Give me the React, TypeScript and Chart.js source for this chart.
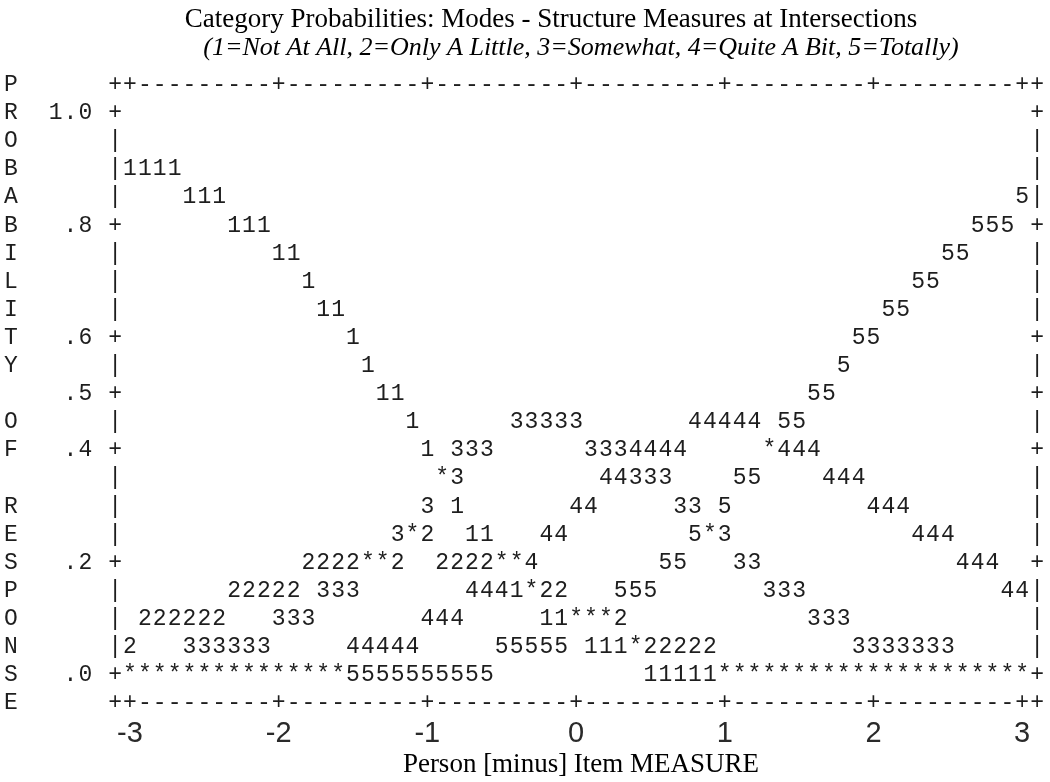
import React, { useEffect, useRef } from "react";
import { Chart, registerables } from "chart.js";

Chart.register(...registerables);

// ---------- text ----------
const chartTitle = "Category Probabilities: Modes - Structure Measures at Intersections";
const chartSubtitle = "(1=Not At All, 2=Only A Little, 3=Somewhat, 4=Quite A Bit, 5=Totally)";
const xAxisTitle = "Person [minus] Item MEASURE";
const yAxisLetters = "PROBABILITY OF RESPONSE";

// ---------- ticks ----------
const xTickValues = [-3, -2, -1, 0, 1, 2, 3];
const yTickValues = [1.0, 0.8, 0.6, 0.5, 0.4, 0.2, 0.0];
const yTickLabels = ["1.0", ".8", ".6", ".5", ".4", ".2", ".0"];

// ---------- categories (plot symbols) ----------
const categories = ["1", "2", "3", "4", "5", "*"];

// ---------- plotted marks: probability row, then [first measure, symbols every 0.1 logit] ----------
const plotProbabilities = [
  0.9, 0.85, 0.8, 0.75, 0.7, 0.65, 0.6, 0.55, 0.5, 0.45,
  0.4, 0.35, 0.3, 0.25, 0.2, 0.15, 0.1, 0.05, 0.0,
];

const plotMarks: [number, string][][] = [
  [[-3.0, "1111"]],
  [[-2.6, "111"], [3.0, "5"]],
  [[-2.3, "111"], [2.7, "555"]],
  [[-2.0, "11"], [2.5, "55"]],
  [[-1.8, "1"], [2.3, "55"]],
  [[-1.7, "11"], [2.1, "55"]],
  [[-1.5, "1"], [1.9, "55"]],
  [[-1.4, "1"], [1.8, "5"]],
  [[-1.3, "11"], [1.6, "55"]],
  [[-1.1, "1"], [-0.4, "33333"], [0.8, "44444"], [1.4, "55"]],
  [[-1.0, "1"], [-0.8, "333"], [0.1, "3334444"], [1.3, "*444"]],
  [[-0.9, "*3"], [0.2, "44333"], [1.1, "55"], [1.7, "444"]],
  [[-1.0, "3"], [-0.8, "1"], [0.0, "44"], [0.7, "33"], [1.0, "5"], [2.0, "444"]],
  [[-1.2, "3*2"], [-0.7, "11"], [-0.2, "44"], [0.8, "5*3"], [2.3, "444"]],
  [[-1.8, "2222**2"], [-0.9, "2222**4"], [0.6, "55"], [1.1, "33"], [2.6, "444"]],
  [[-2.3, "22222"], [-1.7, "333"], [-0.7, "4441*22"], [0.3, "555"], [1.3, "333"], [2.9, "44"]],
  [[-2.9, "222222"], [-2.0, "333"], [-1.0, "444"], [-0.2, "11***2"], [1.6, "333"]],
  [[-3.0, "2"], [-2.6, "333333"], [-1.5, "44444"], [-0.5, "55555"], [0.1, "111*22222"], [1.9, "3333333"]],
  [[-3.0, "***************5555555555"], [0.5, "11111*********************"]],
];

// ---------- layout constants ----------
const CANVAS_W = 1050;
const CANVAS_H = 782;
const STEP = 0.1; // measure per character cell
const ROW_STEP = 0.05; // probability per text row
const MEASURE_PX = 148.7;
const ZERO_X = 576.06;
const TOP_ROW_P = 1.05;
const TOP_ROW_Y = 83.5;
const ROW_PX = 28.1;
const PROB_PX = ROW_PX / ROW_STEP;
const PAD_LEFT = 52;
const AREA_LEFT = 112;
const AREA_RIGHT = 1050;
const AREA_TOP = 63;
const AREA_BOTTOM = 717;

const X_MIN = (AREA_LEFT - ZERO_X) / MEASURE_PX;
const X_MAX = (AREA_RIGHT - ZERO_X) / MEASURE_PX;
const Y_MAX = TOP_ROW_P + (TOP_ROW_Y - AREA_TOP) / PROB_PX;
const Y_MIN = TOP_ROW_P - (AREA_BOTTOM - TOP_ROW_Y) / PROB_PX;

const LETTER_X = -3.8; // column of the vertical axis letters
const LABEL_END_X = -3.3; // last column of the y tick labels
const FRAME_LEFT_X = -3.1;
const FRAME_RIGHT_X = 3.1;

const MONO_SIZE = 23;
const MONO_FONT = `${MONO_SIZE}px "Liberation Mono", "DejaVu Sans Mono", monospace`;
const INK = "#1e1e1e";
const SERIF = '"Liberation Serif", "Times New Roman", serif';

const round1 = (v: number) => Math.round(v * 100) / 100;

function buildDatasets() {
  const byCat: Record<string, { x: number; y: number }[]> = {};
  categories.forEach((c) => (byCat[c] = []));
  plotMarks.forEach((segments, r) => {
    const p = plotProbabilities[r];
    segments.forEach(([start, text]) => {
      for (let k = 0; k < text.length; k++) {
        const ch = text[k];
        if (ch === " ") continue;
        byCat[ch].push({ x: round1(start + k * STEP), y: p });
      }
    });
  });
  return categories.map((c) => ({
    label: c,
    data: byCat[c],
    pointRadius: 0,
    pointHoverRadius: 0,
    showLine: false,
  }));
}

const asciiPlugin = {
  id: "asciiPlot",
  afterDatasetsDraw(chart: any) {
    const { ctx } = chart;
    const xs = chart.scales.x;
    const ys = chart.scales.y;
    ctx.save();
    ctx.font = MONO_FONT;
    ctx.fillStyle = INK;
    ctx.textAlign = "center";
    ctx.textBaseline = "alphabetic";
    const shift = MONO_SIZE * 0.33;
    const put = (ch: string, m: number, p: number) =>
      ctx.fillText(ch, xs.getPixelForValue(m), ys.getPixelForValue(p) + shift);

    const rowCount = yAxisLetters.length;
    for (let r = 0; r < rowCount; r++) {
      const p = round1(TOP_ROW_P - r * ROW_STEP);
      const letter = yAxisLetters[r];
      if (letter !== " ") put(letter, LETTER_X, p);
      if (r === 0 || r === rowCount - 1) {
        const n = Math.round((FRAME_RIGHT_X - FRAME_LEFT_X) / STEP);
        for (let c = 0; c <= n; c++) {
          const m = round1(FRAME_LEFT_X + c * STEP);
          const isEdge = c === 0 || c === n;
          const isTick = xTickValues.some((t) => Math.abs(t - m) < 1e-6);
          put(isEdge || isTick ? "+" : "-", m, p);
        }
      } else {
        const ti = yTickValues.findIndex((v) => Math.abs(v - p) < 1e-6);
        const edge = ti >= 0 ? "+" : "|";
        put(edge, FRAME_LEFT_X, p);
        put(edge, FRAME_RIGHT_X, p);
        if (ti >= 0) {
          const lab = yTickLabels[ti];
          for (let k = 0; k < lab.length; k++) {
            put(lab[k], round1(LABEL_END_X - (lab.length - 1 - k) * STEP), p);
          }
        }
      }
    }

    chart.data.datasets.forEach((ds: any, i: number) => {
      const meta = chart.getDatasetMeta(i);
      meta.data.forEach((el: any) => {
        ctx.fillText(ds.label, el.x, el.y + shift);
      });
    });
    ctx.restore();
  },
};

export default function App() {
  const ref = useRef<HTMLCanvasElement>(null);
  useEffect(() => {
    if (!ref.current) return;
    const chart = new Chart(ref.current, {
      type: "scatter",
      data: { datasets: buildDatasets() as any },
      options: {
        responsive: false,
        animation: false,
        devicePixelRatio: 1,
        events: [],
        layout: { padding: { left: PAD_LEFT, right: 0, top: 0, bottom: 0 } },
        plugins: {
          legend: { display: false },
          tooltip: { enabled: false },
          title: {
            display: true,
            text: chartTitle,
            color: "#000",
            fullSize: true,
            font: { family: SERIF, size: 27, weight: "normal", lineHeight: 1 },
            padding: { top: 6.5, bottom: 0 },
          },
          subtitle: {
            display: true,
            text: chartSubtitle,
            color: "#000",
            fullSize: false,
            font: { family: SERIF, size: 26, style: "italic", weight: "normal", lineHeight: 1 },
            padding: { top: 1.7, bottom: 1.8 },
          },
        },
        scales: {
          x: {
            type: "linear",
            position: "bottom",
            min: X_MIN,
            max: X_MAX,
            grid: { display: false, drawTicks: false },
            border: { display: false },
            afterBuildTicks: (scale: any) => {
              scale.ticks = xTickValues.map((v) => ({ value: v }));
            },
            ticks: {
              autoSkip: false,
              maxRotation: 0,
              padding: 2.5,
              color: "#2a2a2a",
              font: { family: '"Liberation Sans Narrow", "Liberation Sans", Arial, sans-serif', size: 29, lineHeight: 1 },
              callback: (v: any) => String(v),
            },
            title: {
              display: true,
              text: xAxisTitle,
              color: "#000",
              font: { family: SERIF, size: 27, lineHeight: 1 },
              padding: { top: 0, bottom: 4 },
            },
          },
          y: {
            type: "linear",
            position: "left",
            min: Y_MIN,
            max: Y_MAX,
            grid: { display: false, drawTicks: false },
            border: { display: false },
            ticks: { display: false },
            afterFit: (scale: any) => {
              scale.width = AREA_LEFT - PAD_LEFT;
            },
          },
        },
      } as any,
      plugins: [asciiPlugin],
    });
    return () => chart.destroy();
  }, []);

  return (
    <div style={{ position: "absolute", left: 0, top: 0, width: CANVAS_W, height: CANVAS_H, background: "#fff" }}>
      <canvas ref={ref} width={CANVAS_W} height={CANVAS_H} style={{ display: "block", width: CANVAS_W, height: CANVAS_H }} />
    </div>
  );
}
